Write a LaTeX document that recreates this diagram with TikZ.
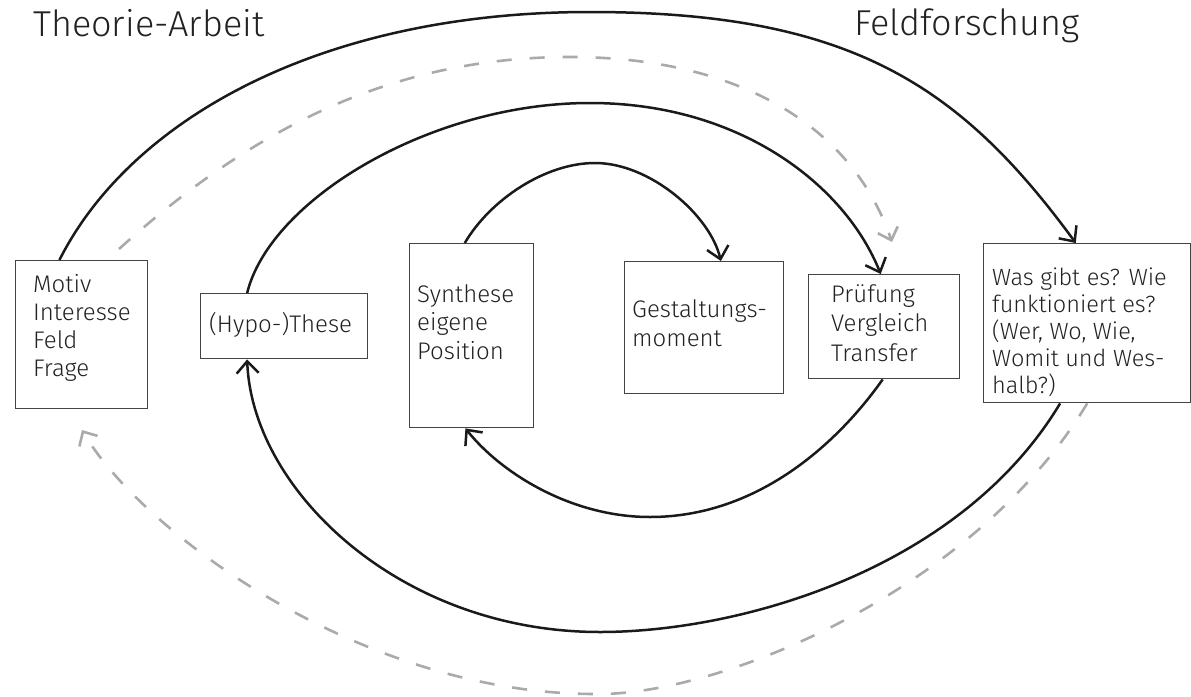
\documentclass[tikz,border=0pt]{standalone}
\usepackage{fontspec}
\setmainfont{Fira Sans}[UprightFont={* Light}]
\usetikzlibrary{arrows.meta,calc}
\definecolor{linec}{HTML}{1A1A1A}
\definecolor{boxc}{HTML}{444444}
\definecolor{dashc}{HTML}{AAAAAA}
\definecolor{txtc}{HTML}{222222}
\tikzset{
  box/.style={draw=boxc, line width=1.4pt, rectangle, inner sep=0pt, anchor=north west},
  txt/.style={text=txtc, inner sep=0pt, align=left, anchor=base west, font=\fontsize{24}{29}\selectfont},
  ttl/.style={text=txtc, inner sep=0pt, anchor=base west, font=\fontsize{36}{40}\selectfont},
  conn/.style={draw=linec, line width=2.5pt, -{Straight Barb[length=12pt,width=22pt,line width=2.5pt]}},
  dconn/.style={draw=dashc, line width=2.6pt, dash pattern=on 15pt off 18pt, -{Straight Barb[length=11pt,width=21pt,line width=2.6pt]}}
}
\begin{document}
\begin{tikzpicture}[x=1pt,y=-1pt]
\useasboundingbox (0,0) rectangle (1191,696);
% titles
\node[ttl] (theo) at (33,36) {Theorie-Arbeit};
\node[ttl] (feld) at (854,35) {Feldforschung};
% boxes
\node[box, minimum width=132pt, minimum height=148pt] (motiv) at (15,260) {};
\node[box, minimum width=167pt, minimum height=65pt] (hypo) at (200,293) {};
\node[box, minimum width=124pt, minimum height=184pt] (syn) at (409,243) {};
\node[box, minimum width=159pt, minimum height=132pt] (gest) at (624,261) {};
\node[box, minimum width=151pt, minimum height=104pt] (pruef) at (808,274) {};
\node[box, minimum width=207pt, minimum height=159pt] (was) at (983,243) {};
% texts (anchored at the baseline of their last line)
\node[txt, font=\fontsize{24}{28}\selectfont] (motivT) at (33,376) {Motiv\\Interesse\\Feld\\Frage};
\node[txt] (hypoT) at (209,332) {(Hypo-)These};
\node[txt, font=\fontsize{24}{28.5}\selectfont] (synT) at (417,359) {Synthese\\eigene\\Position};
\node[txt] (gestT) at (632,346) {Gestaltungs-\\moment};
\node[txt, font=\fontsize{24}{29.5}\selectfont] (pruefT) at (831,361) {Prüfung\\Vergleich\\Transfer};
\node[txt, font=\fontsize{23.5}{27}\selectfont] (wasT) at (992,393) {Was gibt es? Wie\\funktioniert es?\\(Wer, Wo, Wie,\\Womit und Wes-\\halb?)};
% free ends of dashed connectors
\coordinate (dstart) at (119,249);
\coordinate (dtip1) at (892,242);
\coordinate (dtip2) at (82,430);
% connectors
\draw[conn] ($(motiv.north west)!0.333!(motiv.north east)$) .. controls (130,120) and (320,12) .. (590,12)
  .. controls (850,12) and (960,85) .. ($(was.north west)!0.445!(was.north east)$);
\draw[dconn] (dstart) .. controls (240,140) and (380,57) .. (570,57)
  .. controls (730,57) and (850,120) .. (dtip1);
\draw[conn] ($(hypo.north west)!0.28!(hypo.north east)$) .. controls (270,200) and (430,103) .. (590,103)
  .. controls (740,103) and (845,185) .. ($(pruef.north west)!0.477!(pruef.north east)$);
\draw[conn] ($(syn.north west)!0.445!(syn.north east)$) .. controls (490,200) and (545,163) .. (595,163)
  .. controls (650,163) and (710,215) .. ($(gest.north west)!0.604!(gest.north east)$);
\draw[conn] ($(pruef.south west)!0.49!(pruef.south east)$) .. controls (840,440) and (760,517) .. (650,517)
  .. controls (570,517) and (500,472) .. ($(syn.south west)!0.45!(syn.south east)$);
\draw[conn] ($(was.south west)!0.37!(was.south east)$) .. controls (960,570) and (740,632) .. (600,632)
  .. controls (400,632) and (252,490) .. ($(hypo.south west)!0.28!(hypo.south east)$);
\draw[dconn] ($(was.south west)!0.5!(was.south east)$) .. controls (975,590) and (720,696) .. (595,694)
  .. controls (360,694) and (140,530) .. (dtip2);
\end{tikzpicture}
\end{document}
